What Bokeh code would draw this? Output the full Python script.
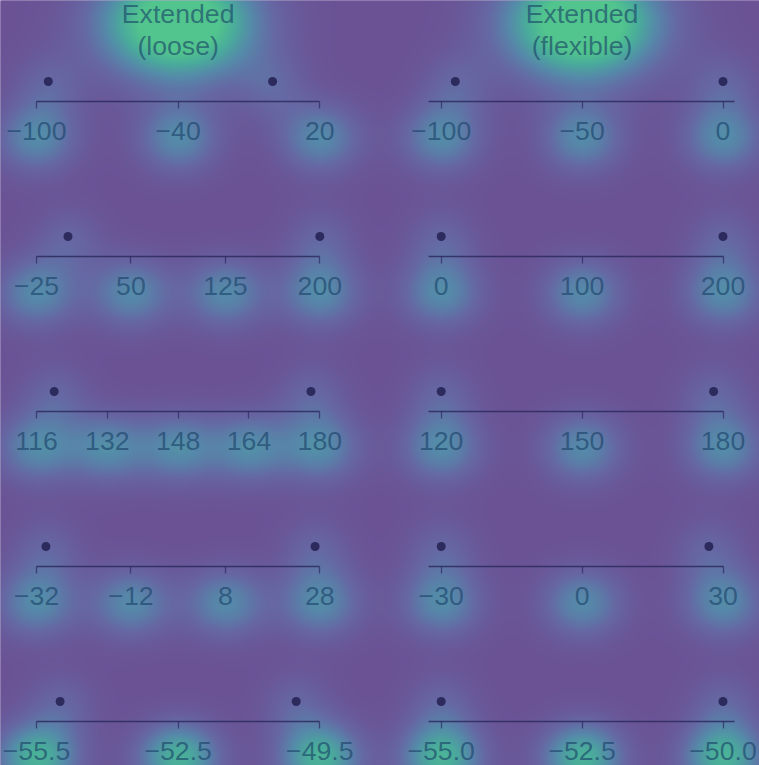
import numpy as np
from bokeh.plotting import figure
from bokeh.models import Range1d, LinearAxis, FixedTicker, CustomJSTickFormatter
from bokeh.embed import file_html
from bokeh.resources import INLINE
from bokeh.core.properties import value

# ---------------- data ----------------
titles = ["Extended\n(loose)", "Extended\n(flexible)"]
data_lo = [-95, 0, 120, -30, -55]
data_hi = [0, 200, 178, 27, -50]
loose_ticks = [[-100, -40, 20], [-25, 50, 125, 200], [116, 132, 148, 164, 180],
               [-32, -12, 8, 28], [-55.5, -52.5, -49.5]]
flex_ticks = [[-100, -50, 0], [0, 100, 200], [120, 150, 180],
              [-30, 0, 30], [-55.0, -52.5, -50.0]]
loose_decimals = [0, 0, 0, 0, 1]
flex_decimals = [0, 0, 0, 0, 1]

# ---------------- layout ----------------
W, H = 759, 765
ROW_AXIS_Y = [101 + 155 * i for i in range(5)]          # px from top
COL_TICK_PX = [(36.0, 319.3), (440.7, 722.5)]
FLEX_LINE_START_PX = 428.3
FLEX_LINE_END_PX = [734.3, 723.3, 723.3, 723.3, 734.3]
POINT_OFFSET = 20
TITLE_BASE_PX = [13, 45]
FONT = "Liberation Sans"
FSIZE = "20pt"
TEXT_COLOR = "#173f66"
TEXT_ALPHA = 0.62
DARK = "#2d2a5e"
BG = "#6b5295"

p = figure(width=W, height=H, x_range=Range1d(0, W), y_range=Range1d(0, H),
           min_border=0, x_axis_location=None, y_axis_location=None,
           toolbar_location=None, output_backend="svg", outline_line_color=None)
p.background_fill_color = BG
p.border_fill_color = BG
p.xgrid.visible = False
p.ygrid.visible = False

# ---------------- glow background ----------------
glows = []  # (x_px, y_px_from_top, weight, sx, sy)
panels = []
for col, (tick_sets, decs) in enumerate([(loose_ticks, loose_decimals), (flex_ticks, flex_decimals)]):
    a, b = COL_TICK_PX[col]
    for r in range(5):
        ticks = tick_sets[r]
        t0, tn = ticks[0], ticks[-1]
        k = (b - a) / (tn - t0)
        start = t0 - a / k
        end = t0 + (W - a) / k
        name = f"c{col}r{r}"
        p.extra_x_ranges[name] = Range1d(start, end)
        panels.append((col, r, name, ticks, decs[r], t0, k, a))
        ay = ROW_AXIS_Y[r]
        w = 0.8 if r == 4 else 0.5
        for t in ticks:
            glows.append((a + (t - t0) * k, ay + 36, w, 28, 24))
        for v in (data_lo[r], data_hi[r]):
            glows.append((a + (v - t0) * k, ay - POINT_OFFSET + 5, 0.22, 24, 24))
    glows.append(((a + b) / 2, 22, 1.35, 52, 38))

pad = 4
yy, xx = np.mgrid[-pad:H + pad, -pad:W + pad].astype(float)
F = np.zeros(xx.shape)
for gx, gy, gw, sx, sy in glows:
    F += gw * np.exp(-((xx - gx) ** 2) / (2 * sx * sx) - ((yy - gy) ** 2) / (2 * sy * sy))
F = np.clip(F, 0, 1)
stops_t = [0.0, 0.25, 0.5, 0.75, 1.0]
stops_c = np.array([[107, 82, 149], [102, 104, 164], [86, 138, 170], [74, 172, 156], [82, 196, 142]], float)
rgb = np.stack([np.interp(F, stops_t, stops_c[:, i]) for i in range(3)], axis=-1).astype(np.uint32)
img = (255 << 24) | (rgb[..., 2] << 16) | (rgb[..., 1] << 8) | rgb[..., 0]
img = np.flipud(img).astype(np.uint32)
p.image_rgba(image=[img], x=-pad, y=-pad, dw=W + 2 * pad, dh=H + 2 * pad)

# ---------------- axes and points ----------------
for col, r, name, ticks, dec, t0, k, a in panels:
    ay = ROW_AXIS_Y[r]
    if col == 0:
        bounds = (ticks[0], ticks[-1])
    else:
        bounds = (t0 + (FLEX_LINE_START_PX - a) / k, t0 + (FLEX_LINE_END_PX[r] - a) / k)
    ax = LinearAxis(x_range_name=name, fixed_location=H - ay,
                    ticker=FixedTicker(ticks=ticks),
                    formatter=CustomJSTickFormatter(args=dict(d=dec),
                        code="return tick.toFixed(d).replace('-', '\u2212')"),
                    bounds=bounds)
    ax.axis_line_color = DARK
    ax.axis_line_width = 1.3
    ax.axis_line_alpha = 0.85
    ax.major_tick_line_color = DARK
    ax.major_tick_line_alpha = 0.7
    ax.major_tick_line_width = 1.3
    ax.major_tick_out = 7
    ax.major_tick_in = 0
    ax.minor_tick_line_color = None
    ax.major_label_text_font = FONT
    ax.major_label_text_font_size = FSIZE
    ax.major_label_text_color = TEXT_COLOR
    ax.major_label_text_alpha = TEXT_ALPHA
    ax.major_label_standoff = 13
    p.add_layout(ax, "below")
    p.scatter(x=[data_lo[r], data_hi[r]], y=[H - ay + POINT_OFFSET] * 2,
              x_range_name=name, size=9, fill_color=DARK, line_color=None)

# ---------------- titles ----------------
for col, t in enumerate(titles):
    name = f"c{col}r0"
    ticks = (loose_ticks if col == 0 else flex_ticks)[0]
    mid = (ticks[0] + ticks[-1]) / 2
    for i, line in enumerate(t.split("\n")):
        p.text(x=[mid], y=[H - TITLE_BASE_PX[i]], text=[line], x_range_name=name,
               text_font=value(FONT), text_font_size=FSIZE, text_align="center",
               text_baseline="middle", text_color=TEXT_COLOR, text_alpha=TEXT_ALPHA)

open("out.html", "w").write(file_html(p, INLINE))
